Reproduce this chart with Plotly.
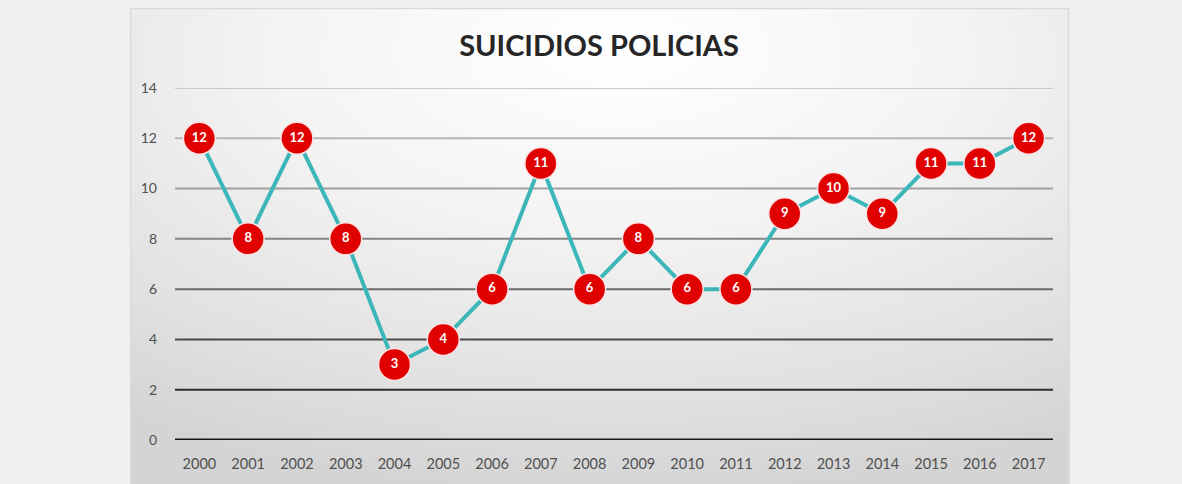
import base64
import plotly.graph_objects as go

years = ["2000", "2001", "2002", "2003", "2004", "2005", "2006", "2007", "2008",
         "2009", "2010", "2011", "2012", "2013", "2014", "2015", "2016", "2017"]
suicidios = [12, 8, 12, 8, 3, 4, 6, 11, 6, 8, 6, 6, 9, 10, 9, 11, 11, 12]
y_ticks = [0, 2, 4, 6, 8, 10, 12, 14]
grid_colors = ["#151515", "#2e2e2e", "#4a4a4a", "#6a6a6a", "#858585", "#a0a0a0", "#b6b6b6", "#cacaca"]

title_text = "SUICIDIOS POLICIAS"

W, H = 1182, 484
L, R, T, B = 175, 129, 88, 44
pw, ph = W - L - R, H - T - B

svg = """<svg xmlns='http://www.w3.org/2000/svg' width='940' height='476' viewBox='0 0 940 476' preserveAspectRatio='none'>
<defs><radialGradient id='g' cx='52%' cy='12%' r='90%' fx='52%' fy='8%'>
<stop offset='0' stop-color='#ffffff'/>
<stop offset='0.4' stop-color='#f4f4f4'/>
<stop offset='0.8' stop-color='#e0e0e0'/>
<stop offset='1' stop-color='#d4d4d4'/>
</radialGradient></defs>
<rect x='0' y='0' width='940' height='476' fill='url(#g)'/>
<rect x='0.5' y='0.5' width='938' height='480' fill='none' stroke='#d9d9d9' stroke-width='1.5'/>
</svg>"""
src = "data:image/svg+xml;base64," + base64.b64encode(svg.encode()).decode()

panel_left, panel_right, panel_top, panel_bottom = 130, 1070, 8, 484

fig = go.Figure()
fig.add_trace(go.Scatter(
    x=years, y=suicidios, mode="lines+markers+text",
    line=dict(color="#3cb6b9", width=4),
    marker=dict(size=32, color="#e00000", line=dict(color="#fbe3e3", width=1.5)),
    text=[str(v) for v in suicidios], textposition="middle center",
    textfont=dict(color="white", size=13, family="Lato", weight="bold"),
    cliponaxis=False, hoverinfo="skip",
))

shapes = []
for v, c in zip(y_ticks, grid_colors):
    shapes.append(dict(type="line", xref="paper", yref="y", x0=0, x1=1, y0=v, y1=v,
                       line=dict(color=c, width=3 if v == 0 else 2), layer="below"))

fig.update_layout(
    width=W, height=H,
    margin=dict(l=L, r=R, t=T, b=B),
    paper_bgcolor="#eef0ef", plot_bgcolor="rgba(0,0,0,0)",
    showlegend=False,
    shapes=shapes,
    images=[dict(source=src, xref="paper", yref="paper",
                 x=(panel_left - L) / pw, y=(H - B - panel_top) / ph,
                 sizex=(panel_right - panel_left) / pw, sizey=(panel_bottom - panel_top) / ph,
                 sizing="stretch", xanchor="left", yanchor="top", layer="below")],
    title=dict(text=title_text, x=599 / W, xref="container", xanchor="center",
               y=1 - 46 / H, yref="container", yanchor="middle",
               font=dict(family="Lato", size=29, color="#262626", weight="bold")),
    xaxis=dict(type="category", range=[-0.5, 17.5], showgrid=False, zeroline=False,
               showline=False, ticks="", tickfont=dict(family="Lato", size=14.5, color="#505050"),
               ticklabelstandoff=13),
    yaxis=dict(range=[0, 14], tickvals=y_ticks, showgrid=False, zeroline=False,
               showline=False, ticks="", tickfont=dict(family="Lato", size=14, color="#505050"),
               ticklabelstandoff=17),
)

fig.write_html("out.html", config={"displayModeBar": False},
               post_script="document.body.style.margin='0';document.body.style.padding='0';")
